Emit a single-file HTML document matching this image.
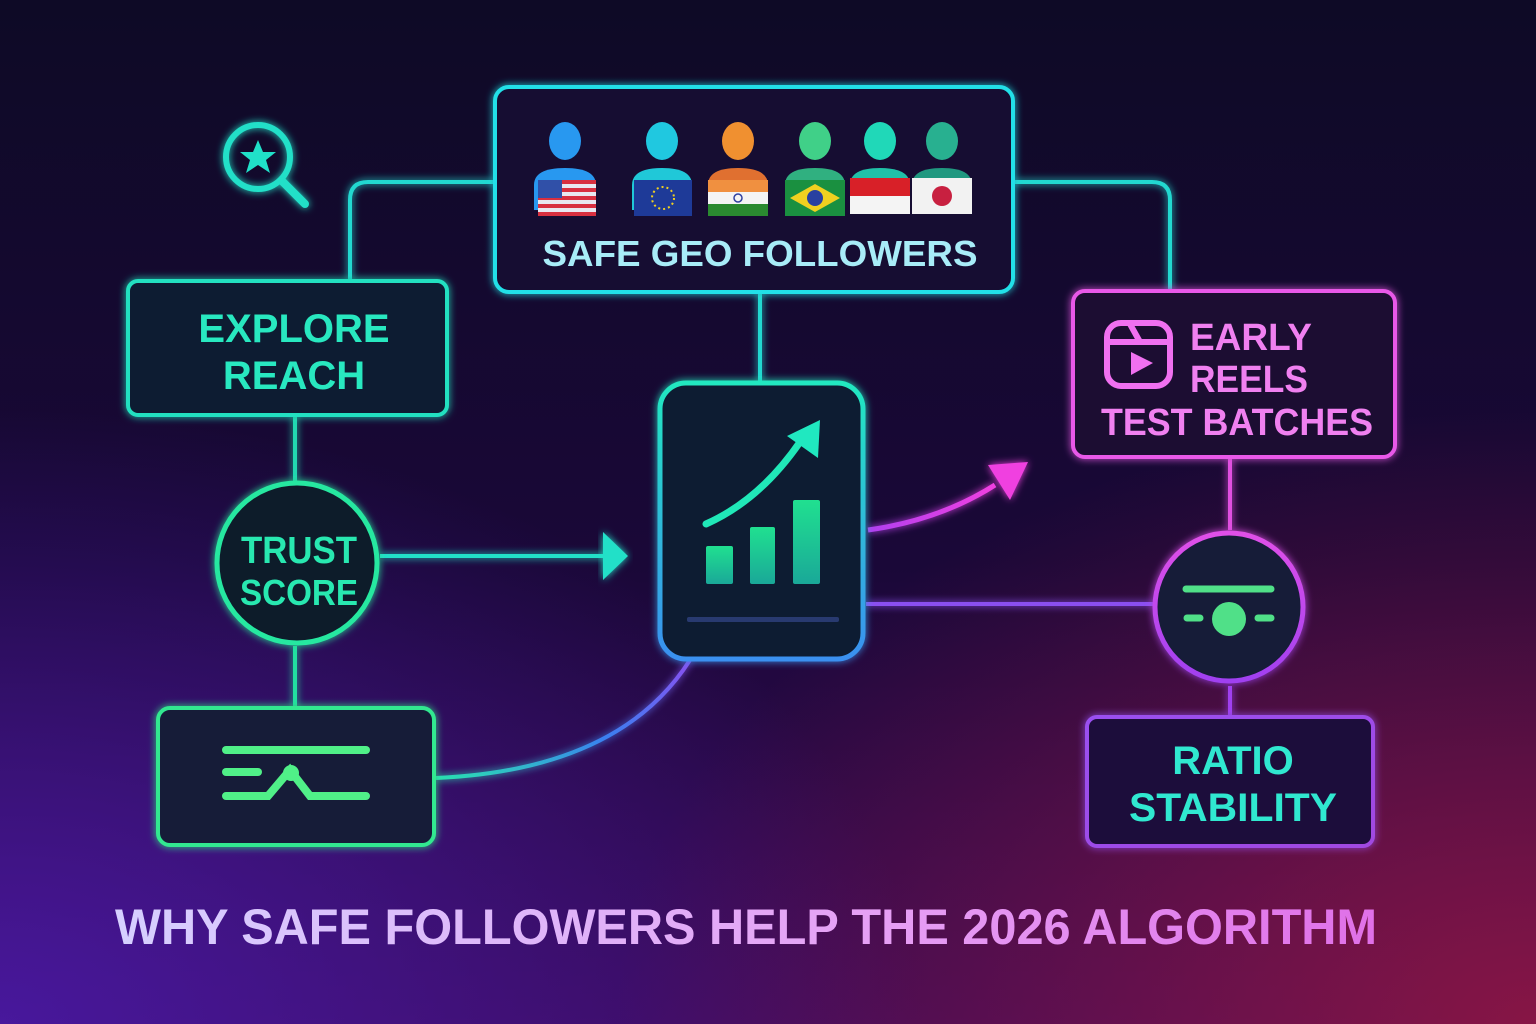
<!DOCTYPE html>
<html><head><meta charset="utf-8"><style>
html,body{margin:0;padding:0;width:1536px;height:1024px;overflow:hidden;background:#0f0a28}
svg{display:block}
text{font-family:"Liberation Sans","DejaVu Sans",sans-serif;font-weight:bold}
</style></head><body>
<svg width="1536" height="1024" viewBox="0 0 1536 1024" xmlns="http://www.w3.org/2000/svg">
<defs>
<linearGradient id="bg" x1="0" y1="0" x2="0" y2="1">
<stop offset="0" stop-color="#0e0a26"/><stop offset="0.55" stop-color="#1a0838"/><stop offset="1" stop-color="#3a0a58"/>
</linearGradient>
<radialGradient id="bl" cx="0" cy="1" r="0.6">
<stop offset="0" stop-color="#4a1aa8" stop-opacity="0.85"/><stop offset="1" stop-color="#4a1aa8" stop-opacity="0"/>
</radialGradient>
<radialGradient id="br" cx="1" cy="1" r="0.6">
<stop offset="0" stop-color="#9a1840" stop-opacity="0.8"/><stop offset="1" stop-color="#9a1840" stop-opacity="0"/>
</radialGradient>
<linearGradient id="title" x1="0" y1="0" x2="1" y2="0">
<stop offset="0" stop-color="#d6d0ff"/><stop offset="0.6" stop-color="#e6a0f5"/><stop offset="1" stop-color="#e070e8"/>
</linearGradient>
<linearGradient id="phone" x1="0" y1="0" x2="0" y2="1">
<stop offset="0" stop-color="#22e8c0"/><stop offset="1" stop-color="#3a90f0"/>
</linearGradient>
<linearGradient id="curve" x1="0" y1="1" x2="1" y2="0">
<stop offset="0" stop-color="#2ae0b0"/><stop offset="0.5" stop-color="#3a80f0"/><stop offset="1" stop-color="#8a50f0"/>
</linearGradient>
<linearGradient id="circ2" x1="0" y1="0" x2="0" y2="1">
<stop offset="0" stop-color="#e050e8"/><stop offset="1" stop-color="#a040f0"/>
</linearGradient>
<linearGradient id="ratio" x1="0" y1="0" x2="1" y2="1">
<stop offset="0" stop-color="#9a50f0"/><stop offset="1" stop-color="#a048e0"/>
</linearGradient>
<linearGradient id="bar" x1="0" y1="1" x2="0" y2="0">
<stop offset="0" stop-color="#1aa898"/><stop offset="1" stop-color="#20e090"/>
</linearGradient>
<linearGradient id="pinkarr" x1="0" y1="0" x2="1" y2="0">
<stop offset="0" stop-color="#b040f0"/><stop offset="1" stop-color="#f040e0"/>
</linearGradient>
<filter id="glow" x="-20%" y="-20%" width="140%" height="140%"><feGaussianBlur stdDeviation="4" result="b"/><feMerge><feMergeNode in="b"/><feMergeNode in="SourceGraphic"/></feMerge></filter>
</defs>
<rect width="1536" height="1024" fill="url(#bg)"/>
<rect width="1536" height="1024" fill="url(#bl)"/>
<rect width="1536" height="1024" fill="url(#br)"/>

<g fill="none" stroke-width="4" filter="url(#glow)">
<path d="M350 280 V200 Q350 182 368 182 H495" stroke="#22d8d0"/>
<path d="M1013 182 H1152 Q1170 182 1170 200 V292" stroke="#22d8d0"/>
<path d="M760 292 V382" stroke="#22d8d0"/>
<path d="M295 415 V482" stroke="#22d8b0"/>
<path d="M295 646 V708" stroke="#22e0a0"/>
<path d="M380 556 H608" stroke="#22e0c8"/>
<path d="M436 778 Q620 770 690 660" stroke="url(#curve)"/>
<path d="M866 604 H1155" stroke="#8a50f0"/>
<path d="M868 530 Q940 520 995 485" stroke="url(#pinkarr)" stroke-width="5"/>
<path d="M1230 458 V530" stroke="#e050e0"/>
<path d="M1230 686 V716" stroke="#a040f0"/>
</g>
<polygon points="603,532 628,556 603,580" fill="#22e0c8" filter="url(#glow)"/>
<polygon points="988,465 1028,462 1010,500" fill="#f040e0" filter="url(#glow)"/>

<g fill="none" stroke="#20e0c8" stroke-width="6" filter="url(#glow)">
<circle cx="258" cy="157" r="32"/><path d="M282 181 L305 204" stroke-linecap="round" stroke-width="8"/>
</g>
<polygon points="258,140 263,152 276,152 266,160 270,173 258,165 246,173 250,160 240,152 253,152" fill="#20e0c8"/>

<rect x="495" y="87" width="518" height="205" rx="14" fill="#130c30" stroke="#22e0e8" stroke-width="4" filter="url(#glow)"/>
<g>
<ellipse cx="565" cy="141" rx="16" ry="19" fill="#2898f0"/><path d="M534 210 V185 Q534 168 565 168 Q596 168 596 185 V210Z" fill="#2898f0"/>
<rect x="538" y="180" width="58" height="36" fill="#e8e8f0"/>
<g fill="#d83040"><rect x="538" y="180" width="58" height="4"/><rect x="538" y="188" width="58" height="4"/><rect x="538" y="196" width="58" height="4"/><rect x="538" y="204" width="58" height="4"/><rect x="538" y="212" width="58" height="4"/></g>
<rect x="538" y="180" width="24" height="18" fill="#3050a8"/>
<ellipse cx="662" cy="141" rx="16" ry="19" fill="#20c8e0"/><path d="M632 210 V185 Q632 168 662 168 Q692 168 692 185 V210Z" fill="#20c8d8"/>
<rect x="634" y="180" width="58" height="36" fill="#1e3a98"/><circle cx="663" cy="198" r="11" fill="none" stroke="#f0d020" stroke-width="2" stroke-dasharray="2 3"/>
<ellipse cx="738" cy="141" rx="16" ry="19" fill="#f09030"/><path d="M708 210 V185 Q708 168 738 168 Q768 168 768 185 V210Z" fill="#e07030"/>
<rect x="708" y="180" width="60" height="12" fill="#f09040"/><rect x="708" y="192" width="60" height="12" fill="#f4f4f4"/><rect x="708" y="204" width="60" height="12" fill="#2a8a30"/><circle cx="738" cy="198" r="4" fill="none" stroke="#3040a0" stroke-width="1.5"/>
<ellipse cx="815" cy="141" rx="16" ry="19" fill="#40d088"/><path d="M785 210 V185 Q785 168 815 168 Q845 168 845 185 V210Z" fill="#30b080"/>
<rect x="785" y="180" width="60" height="36" fill="#1a9040"/><polygon points="815,184 840,198 815,212 790,198" fill="#f0d020"/><circle cx="815" cy="198" r="8" fill="#2840a0"/>
<ellipse cx="880" cy="141" rx="16" ry="19" fill="#20d8b8"/><path d="M850 210 V185 Q850 168 880 168 Q910 168 910 185 V210Z" fill="#20c0a8"/>
<rect x="850" y="178" width="60" height="18" fill="#d82028"/><rect x="850" y="196" width="60" height="18" fill="#f4f4f4"/>
<ellipse cx="942" cy="141" rx="16" ry="19" fill="#28b090"/><path d="M912 210 V185 Q912 168 942 168 Q972 168 972 185 V210Z" fill="#209880"/>
<rect x="912" y="178" width="60" height="36" fill="#f2f2f2"/><circle cx="942" cy="196" r="10" fill="#c82040"/>
</g>
<text x="760" y="266" text-anchor="middle" font-size="36" fill="#a8ecf8" textLength="435" lengthAdjust="spacingAndGlyphs">SAFE GEO FOLLOWERS</text>

<rect x="128" y="281" width="319" height="134" rx="10" fill="#0f1a30" stroke="#22e0c0" stroke-width="4" filter="url(#glow)"/>
<text x="294" y="342" text-anchor="middle" font-size="40" fill="#28e8c0">EXPLORE</text>
<text x="294" y="389" text-anchor="middle" font-size="40" fill="#28e8c0">REACH</text>

<circle cx="297" cy="563" r="80" fill="#0c1a2a" stroke="#28e8a0" stroke-width="5" filter="url(#glow)"/>
<text x="299" y="563" text-anchor="middle" font-size="38" fill="#28e8b0" textLength="116" lengthAdjust="spacingAndGlyphs">TRUST</text>
<text x="299" y="605" text-anchor="middle" font-size="36" fill="#28e8b0" textLength="118" lengthAdjust="spacingAndGlyphs">SCORE</text>

<rect x="158" y="708" width="276" height="137" rx="12" fill="#141a38" stroke="#30e890" stroke-width="4" filter="url(#glow)"/>
<g stroke="#50f088" stroke-width="8" stroke-linecap="round" fill="none">
<path d="M226 750 H366"/><path d="M226 772 H258"/><path d="M226 796 H268 L290 770 L310 796 H366"/>
</g>
<circle cx="291" cy="773" r="8" fill="#50f088"/>

<rect x="660" y="383" width="203" height="276" rx="26" fill="#0e1a30" stroke="url(#phone)" stroke-width="5" filter="url(#glow)"/>
<rect x="706" y="546" width="27" height="38" rx="2" fill="url(#bar)"/>
<rect x="750" y="527" width="25" height="57" rx="2" fill="url(#bar)"/>
<rect x="793" y="500" width="27" height="84" rx="2" fill="url(#bar)"/>
<path d="M706 524 Q760 500 800 442" fill="none" stroke="#20e8b8" stroke-width="7" stroke-linecap="round"/>
<polygon points="787,436 820,420 818,458" fill="#20e8c0"/>
<rect x="687" y="617" width="152" height="5" rx="2" fill="#283a70"/>

<rect x="1073" y="291" width="322" height="166" rx="12" fill="#1a0c30" stroke="#e858e8" stroke-width="4" filter="url(#glow)"/>
<g fill="none" stroke="#f070f0" stroke-width="6"><rect x="1107" y="323" width="63" height="63" rx="14"/><path d="M1107 342 H1170 M1130 324 L1140 342"/></g>
<polygon points="1131,352 1153,363 1131,375" fill="#f070f0"/>
<text x="1190" y="350" font-size="38" fill="#f080f0" textLength="122" lengthAdjust="spacingAndGlyphs">EARLY</text>
<text x="1190" y="392" font-size="38" fill="#f080f0" textLength="118" lengthAdjust="spacingAndGlyphs">REELS</text>
<text x="1237" y="435" text-anchor="middle" font-size="38" fill="#f080f0" textLength="272" lengthAdjust="spacingAndGlyphs">TEST BATCHES</text>

<circle cx="1229" cy="607" r="74" fill="#121a38" stroke="url(#circ2)" stroke-width="5" filter="url(#glow)"/>
<g stroke="#50e088" stroke-width="7" stroke-linecap="round"><path d="M1186 589 H1271"/><path d="M1187 618 H1200"/><path d="M1258 618 H1271"/></g>
<circle cx="1229" cy="619" r="17" fill="#50e088"/>

<rect x="1087" y="717" width="286" height="129" rx="10" fill="#1c0c3a" stroke="url(#ratio)" stroke-width="4" filter="url(#glow)"/>
<text x="1233" y="774" text-anchor="middle" font-size="40" fill="#30e8d0">RATIO</text>
<text x="1233" y="821" text-anchor="middle" font-size="40" fill="#30e8d0" textLength="208" lengthAdjust="spacingAndGlyphs">STABILITY</text>

<text x="746" y="944" text-anchor="middle" font-size="50" fill="url(#title)" textLength="1262" lengthAdjust="spacingAndGlyphs">WHY SAFE FOLLOWERS HELP THE 2026 ALGORITHM</text>
</svg>
</body></html>
